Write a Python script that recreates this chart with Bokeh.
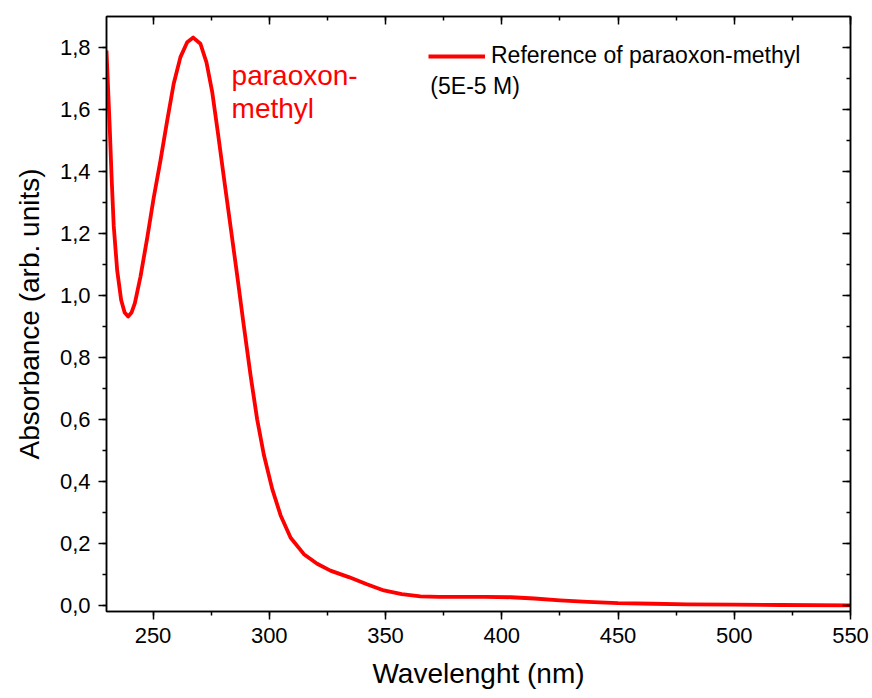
from bokeh.plotting import figure
from bokeh.models import (Range1d, LinearAxis, SingleIntervalTicker, CustomJSTickFormatter,
                          Legend, LegendItem, Label)
from bokeh.embed import file_html
from bokeh.resources import INLINE

# Data
wavelength = [230, 231.4, 232.2, 233.1, 234.6, 236.3, 237.8, 239.3, 240.8, 242.2, 244.6,
              247.5, 250.3, 253.2, 256.1, 258.9, 261.8, 264.7, 267.3, 270.4, 273.0, 275.5,
              278.0, 280.5, 283.4, 286.2, 289.0, 292.0, 294.8, 297.7, 301.3, 304.9, 309.2,
              314.9, 320.6, 326.3, 334.2, 342, 349.3, 357, 365, 373, 382, 393, 404, 414, 425,
              437, 450, 465, 480, 500, 520, 550]
absorbance = [1.79, 1.54, 1.38, 1.225, 1.080, 0.985, 0.945, 0.932, 0.945, 0.975,
              1.060, 1.185, 1.315, 1.435, 1.564, 1.683, 1.769, 1.817, 1.832, 1.812, 1.752,
              1.655, 1.520, 1.380, 1.220, 1.065, 0.905, 0.740, 0.600, 0.485, 0.375, 0.290,
              0.218, 0.165, 0.134, 0.112, 0.091, 0.068, 0.048, 0.036, 0.029, 0.027, 0.027,
              0.027, 0.026, 0.022, 0.016, 0.011, 0.007, 0.005, 0.003, 0.002, 0.001, 0.0]

series_label = "Reference of paraoxon-methyl"
series_label_2 = "(5E-5 M)"
annotation = ["paraoxon-", "methyl"]

FONT = "Liberation Sans"
RED = "#ff0000"

p = figure(width=872, height=698, output_backend="svg", toolbar_location=None,
           x_range=Range1d(230, 550), y_range=Range1d(-0.02, 1.9),
           x_axis_label="Wavelenght (nm)", y_axis_label="Absorbance (arb. units)",
           min_border_left=106, min_border_right=22, min_border_top=16, min_border_bottom=87)
p.grid.visible = False
p.outline_line_color = "black"
p.outline_line_width = 1.5
p.background_fill_color = "white"
p.border_fill_color = "white"

r = p.line(wavelength, absorbance, line_color=RED, line_width=3.8, line_join="round")

xt = SingleIntervalTicker(interval=50, num_minor_ticks=2)
yt = SingleIntervalTicker(interval=0.2, num_minor_ticks=2)
yfmt = CustomJSTickFormatter(code="return tick.toFixed(1).replace('.', ',');")
blank = CustomJSTickFormatter(code="return '';")

for ax in p.xaxis:
    ax.ticker = xt
for ax in p.yaxis:
    ax.ticker = yt
    ax.formatter = yfmt

for ax in list(p.xaxis) + list(p.yaxis):
    ax.major_label_text_font = FONT
    ax.major_label_text_font_size = "22px"
    ax.major_label_text_color = "black"
    ax.axis_label_text_font = FONT
    ax.axis_label_text_font_size = "28px"
    ax.axis_label_text_font_style = "normal"
    ax.axis_label_text_color = "black"
    ax.axis_line_width = 1.5
    ax.major_tick_line_width = 1.5
    ax.minor_tick_line_width = 1.5
    ax.major_tick_out = 8
    ax.major_tick_in = 0
    ax.minor_tick_out = 4
    ax.minor_tick_in = 0
    ax.major_label_standoff = 8
    ax.axis_label_standoff = 12

top = LinearAxis(ticker=SingleIntervalTicker(interval=50, num_minor_ticks=2), formatter=blank)
right = LinearAxis(ticker=SingleIntervalTicker(interval=0.2, num_minor_ticks=2), formatter=blank)
for ax in (top, right):
    ax.axis_line_width = 1.5
    ax.major_tick_line_width = 1.5
    ax.minor_tick_line_width = 1.5
    ax.major_tick_out = 0
    ax.major_tick_in = 8
    ax.minor_tick_out = 0
    ax.minor_tick_in = 4
    ax.major_label_text_font_size = "1px"
p.add_layout(top, "above")
p.add_layout(right, "right")

legend = Legend(items=[LegendItem(label=series_label, renderers=[r])],
                location=(322, 542), padding=0, margin=0, spacing=0,
                glyph_width=57, glyph_height=20, label_standoff=6,
                label_text_font=FONT, label_text_font_size="23px", label_text_color="black",
                border_line_color=None, background_fill_alpha=0)
p.add_layout(legend)

p.add_layout(Label(x=369.3, y=1.675, text=series_label_2, text_font=FONT,
                   text_font_size="23px", text_color="black", text_baseline="alphabetic"))

for txt, yy in zip(annotation, [1.711, 1.603]):
    p.add_layout(Label(x=283.8, y=yy, text=txt, text_font=FONT, text_font_size="28px",
                       text_color=RED, text_baseline="alphabetic"))

open("out.html", "w").write(file_html(p, INLINE))
